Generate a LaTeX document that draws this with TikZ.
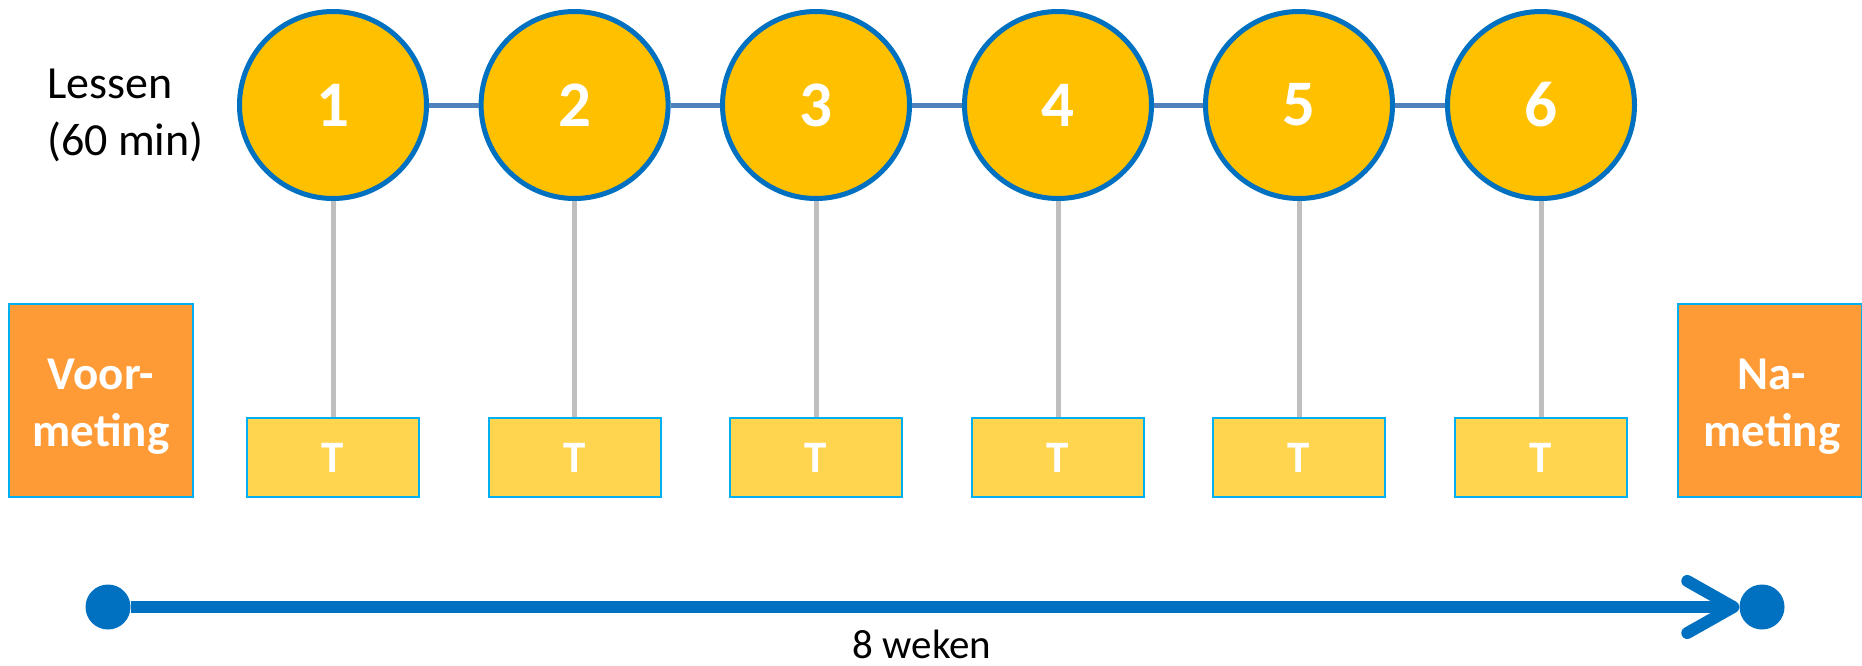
\documentclass[tikz,border=0pt]{standalone}
\usepackage{fontspec}
\setmainfont{Carlito}
\usetikzlibrary{arrows.meta}
\definecolor{lesfill}{HTML}{FFC000}
\definecolor{lesborder}{HTML}{0070C0}
\definecolor{lesline}{HTML}{4F81BD}
\definecolor{testfill}{HTML}{FFD550}
\definecolor{boxborder}{HTML}{00B0F0}
\definecolor{metfill}{HTML}{FF9B37}
\definecolor{stemgray}{HTML}{BFBFBF}
\definecolor{timeblue}{HTML}{0070C0}
\tikzset{
  les/.style={circle, draw=lesborder, fill=lesfill, line width=5pt, minimum size=187pt, inner sep=0pt,
    text=white, font=\fontsize{65}{70}\selectfont\bfseries},
  testbox/.style={rectangle, draw=boxborder, fill=testfill, line width=2pt, minimum width=172pt, minimum height=79pt,
    inner sep=0pt, text=white, font=\fontsize{45}{50}\selectfont\bfseries},
  metbox/.style={rectangle, draw=boxborder, fill=metfill, line width=2.5pt, minimum width=184pt, minimum height=193pt,
    inner sep=0pt},
  metlabel/.style={anchor=base, inner sep=0pt, text=white, align=center, font=\fontsize{47}{57}\selectfont\bfseries},
  stem/.style={draw=stemgray, line width=5pt},
  chain/.style={draw=lesline, line width=5pt},
  tdot/.style={circle, fill=timeblue, minimum size=45pt, inner sep=0pt},
}
\begin{document}
\begin{tikzpicture}[x=1pt,y=-1pt]
\useasboundingbox (0,0) rectangle (1862,665);
\path[fill=white] (0,0) rectangle (1862,665);
% lessons
\foreach \i/\x in {1/333,2/574.6,3/816,4/1058,5/1299,6/1541}{
  \node[testbox] (t\i) at (\x,457.5) {T};
}
\foreach \i/\x in {1/333,2/574.6,3/816,4/1058,5/1299,6/1541}{
  \node[les] (c\i) at (\x,105) {\i};
}
\foreach \i in {1,...,6}{
  \draw[stem] (c\i.south) -- (t\i.north);
}
\foreach \i/\j in {1/2,2/3,3/4,4/5,5/6}{
  \draw[chain] (c\i.east) -- (c\j.west);
}
\node[anchor=base west, align=left, font=\fontsize{46}{57}\selectfont, inner sep=0pt] (lessen) at (47,155) {Lessen\\(60 min)};
% measurement boxes
\node[metbox] (voor) at (101,400.5) {};
\node[metlabel] (voortxt) at (101,446) {Voor-\\meting};
\node[metbox] (na) at (1770,400.5) {};
\node[metlabel] (natxt) at (1772,446) {Na-\\meting};
% timeline
\node[tdot] (ldot) at (108,607) {};
\node[tdot] (rdot) at (1762,607) {};
\draw[draw=timeblue, line width=12pt, -{Straight Barb[length=46pt,width=52pt,round]}] (ldot.east) -- (rdot.west);
\node[anchor=base, font=\fontsize{41}{48}\selectfont, inner sep=0pt] (weken) at (922,658) {8 weken};
\end{tikzpicture}
\end{document}
